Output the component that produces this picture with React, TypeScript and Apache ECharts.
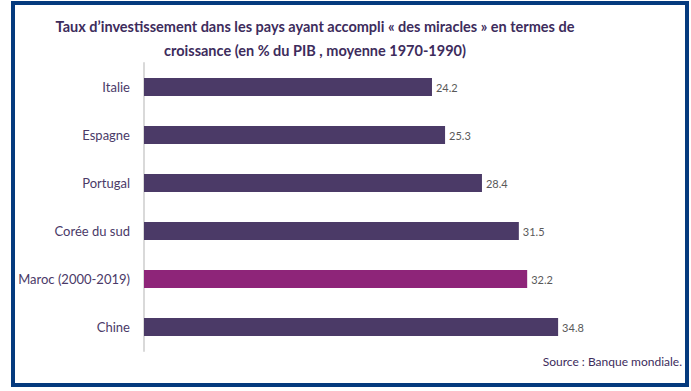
import React, { useEffect, useRef } from "react";
import * as echarts from "echarts";

const titleLines = [
  "Taux d’investissement dans les pays ayant accompli « des miracles » en termes de",
  "croissance (en % du PIB , moyenne 1970-1990)",
];
const categories = ["Italie", "Espagne", "Portugal", "Corée du sud", "Maroc (2000-2019)", "Chine"];
const values = [24.2, 25.3, 28.4, 31.5, 32.2, 34.8];
const highlighted = "Maroc (2000-2019)";
const sourceText = "Source : Banque mondiale.";

const FONT = "Lato, 'Open Sans', sans-serif";

export default function App() {
  const ref = useRef<HTMLDivElement>(null);
  useEffect(() => {
    if (!ref.current) return;
    const chart = echarts.init(ref.current, null, { renderer: "svg" });
    chart.setOption({
      animation: false,
      backgroundColor: "#ffffff",
      title: {
        text: titleLines.join("\n"),
        left: 310,
        textAlign: "center",
        top: 9,
        textStyle: {
          fontFamily: FONT,
          fontWeight: "bold",
          fontSize: 14.5,
          lineHeight: 24,
          color: "#3d2c5c",
        },
      },
      grid: { left: 144, top: 63, height: 288, right: 71, containLabel: false },
      xAxis: {
        type: "value",
        min: 0,
        max: 40,
        show: false,
        splitLine: { show: false },
      },
      yAxis: {
        type: "category",
        data: categories,
        inverse: true,
        axisLine: { show: true, lineStyle: { color: "#d9d9d9", width: 2 } },
        axisTick: { show: false },
        axisLabel: {
          margin: 14,
          fontFamily: FONT,
          fontSize: 13,
          color: "#4a3a68",
        },
      },
      series: [
        {
          type: "bar",
          barWidth: 18,
          data: values.map((v, i) => ({
            value: v,
            itemStyle: { color: categories[i] === highlighted ? "#8e2579" : "#4b3a67" },
          })),
          label: {
            show: true,
            position: "right",
            distance: 4,
            fontFamily: FONT,
            fontSize: 11,
            color: "#595959",
            formatter: (p: any) => p.value.toFixed(1),
          },
        },
      ],
      graphic: [
        {
          type: "rect",
          shape: { x: 13, y: 3, width: 674, height: 382 },
          style: { fill: "none", stroke: "#053a7e", lineWidth: 4 },
          silent: true,
        },
        {
          type: "text",
          right: 9,
          top: 355,
          style: {
            text: sourceText,
            fontFamily: FONT,
            fontSize: 12,
            fill: "#3d2c5c",
          },
        },
      ],
    });
    return () => chart.dispose();
  }, []);
  return (
    <div
      ref={ref}
      style={{ position: "absolute", left: 0, top: 0, width: 691, height: 391 }}
    />
  );
}
